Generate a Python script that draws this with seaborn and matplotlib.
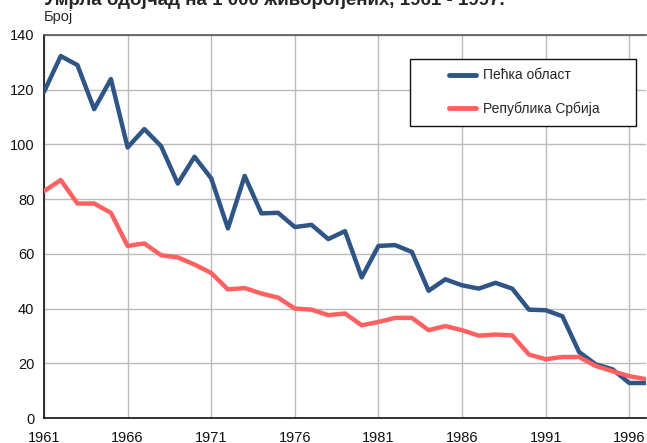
import matplotlib
matplotlib.use("Agg")
import matplotlib.pyplot as plt
from matplotlib.patches import Rectangle
import pandas as pd
import seaborn as sns

# Умрла одојчад на 1 000 живорођених
years = list(range(1961, 1998))
pecka = [119.2, 132.3, 129.0, 112.9, 123.9, 98.9, 105.6, 99.4, 85.7, 95.5,
         87.6, 69.3, 88.5, 74.8, 75.0, 69.8, 70.6, 65.4, 68.3, 51.4,
         62.9, 63.2, 60.7, 46.5, 50.7, 48.5, 47.3, 49.4, 47.3, 39.6,
         39.4, 37.2, 24.1, 19.6, 17.8, 12.8, 12.8]
srbija = [82.9, 87.0, 78.4, 78.4, 75.0, 62.9, 63.8, 59.5, 58.7, 56.1,
          53.0, 47.0, 47.5, 45.5, 44.0, 40.0, 39.6, 37.6, 38.2, 33.9,
          35.1, 36.6, 36.6, 32.1, 33.6, 32.1, 30.1, 30.5, 30.2, 23.2,
          21.5, 22.3, 22.3, 19.0, 17.1, 15.3, 14.2]
series_names = ["Пећка област", "Република Србија"]
colors = ["#2E5585", "#FF6060"]
xtick_years = list(range(1961, 1997, 5))
ytick_vals = list(range(0, 141, 20))

df = pd.DataFrame({
    "Година": years * 2,
    "Број": pecka + srbija,
    "Подручје": [series_names[0]] * len(years) + [series_names[1]] * len(years),
})

sns.set_style("white")
plt.rcParams["font.family"] = ["Liberation Sans", "DejaVu Sans"]

fig = plt.figure(figsize=(6.47, 4.43), dpi=100)
ax = fig.add_axes([44 / 647, 25 / 443, 602 / 647, 383 / 443])

sns.lineplot(data=df, x="Година", y="Број", hue="Подручје",
             palette=colors, linewidth=3.2, legend=False, ax=ax,
             zorder=3)

ax.set_xlim(1961, 1997)
ax.set_ylim(0, 140)
ax.set_xticks(xtick_years)
ax.set_yticks(ytick_vals)
ax.tick_params(axis="both", length=0, labelsize=10.5, colors="#111111")
ax.tick_params(axis="y", pad=7)
ax.tick_params(axis="x", pad=9)
ax.grid(True, color="#BBBBBB", linewidth=1)
ax.set_xlabel("")
ax.set_ylabel("")
ax.spines["left"].set_color("#111111")
ax.spines["bottom"].set_color("#111111")
ax.spines["top"].set_color("#555555")
ax.spines["right"].set_visible(False)
for s in ["left", "bottom", "top"]:
    ax.spines[s].set_linewidth(1.2)

# легенда
box = Rectangle((0.608, 0.762), 0.376, 0.175, transform=ax.transAxes,
                facecolor="white", edgecolor="#111111", linewidth=1, zorder=4)
ax.add_patch(box)
handles = [plt.Line2D([], [], color=c, linewidth=3.5, solid_capstyle="round")
           for c in colors]
ax.legend(handles, series_names, loc="upper left",
          bbox_to_anchor=(0.656, 0.938), frameon=False, fontsize=10,
          handlelength=2.0, handletextpad=0.45, labelspacing=1.35,
          borderpad=0.2)

fig.text(44 / 647, 1 - 5 / 443,
         "Умрла одојчад на 1 000 живорођених, 1961 - 1997.",
         fontsize=13.5, fontweight="bold", va="baseline", ha="left")
fig.text(44 / 647, 1 - 21 / 443, "Број", fontsize=10.5, va="baseline",
         ha="left")

fig.savefig("out.png", dpi=100)
